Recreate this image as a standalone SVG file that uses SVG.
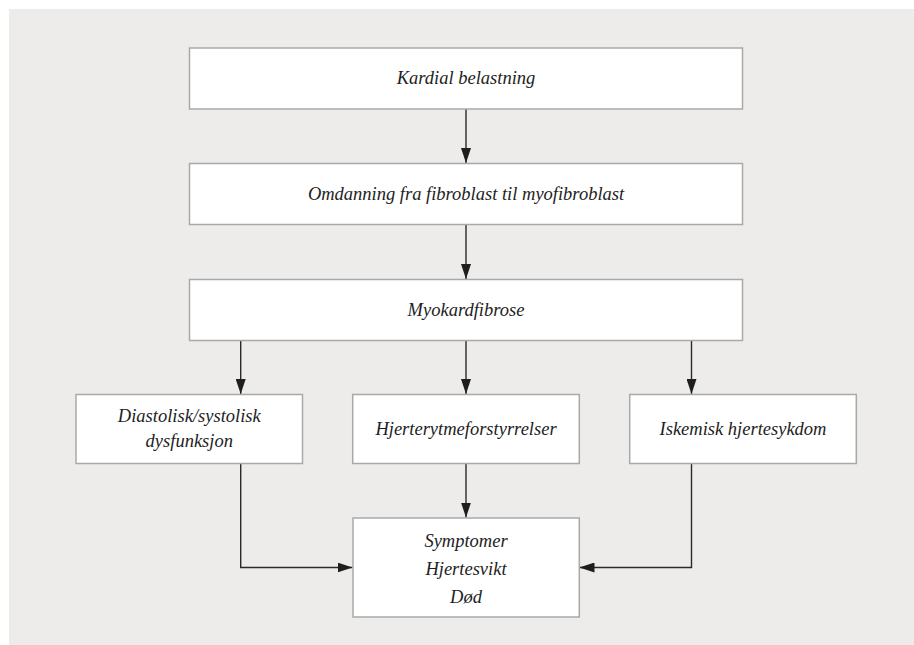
<svg xmlns="http://www.w3.org/2000/svg" width="914" height="645" viewBox="0 0 914 645">
<defs>
<style>
.bg{fill:#edecea}
.box{fill:#ffffff;stroke:#a9a9a9;stroke-width:1.5}
.t{font-family:"Liberation Serif","Times New Roman",serif;font-style:italic;font-size:18.5px;fill:#1e1e1e;text-anchor:middle}
.c{fill:none;stroke:#2a2a2a;stroke-width:1.4}
</style>
<marker id="ah" viewBox="0 0 15 10" refX="15" refY="5" markerWidth="15" markerHeight="10" markerUnits="userSpaceOnUse" orient="auto">
<path d="M0,0 L15,5 L0,10 Z" fill="#1e1e1e"/>
</marker>
</defs>
<rect class="bg" x="9" y="9" width="905" height="636"/>
<g id="connectors">
<line class="c" x1="466" y1="109" x2="466" y2="163" marker-end="url(#ah)"/>
<line class="c" x1="466" y1="224.5" x2="466" y2="279" marker-end="url(#ah)"/>
<line class="c" x1="240.7" y1="340.5" x2="240.7" y2="394" marker-end="url(#ah)"/>
<line class="c" x1="466" y1="340.5" x2="466" y2="394" marker-end="url(#ah)"/>
<line class="c" x1="691.5" y1="340.5" x2="691.5" y2="394" marker-end="url(#ah)"/>
<line class="c" x1="466" y1="463.5" x2="466" y2="517.5" marker-end="url(#ah)"/>
<polyline class="c" points="240.7,463.5 240.7,567.5 352.5,567.5" marker-end="url(#ah)"/>
<polyline class="c" points="691.5,463.5 691.5,567.5 579.5,567.5" marker-end="url(#ah)"/>
</g>
<g id="kardial">
<rect class="box" x="189.5" y="48" width="553" height="61"/>
<text class="t" x="466" y="84">Kardial belastning</text>
</g>
<g id="omdanning">
<rect class="box" x="189.5" y="163.5" width="553" height="61"/>
<text class="t" x="466" y="200">Omdanning fra fibroblast til myofibroblast</text>
</g>
<g id="myokardfibrose">
<rect class="box" x="189.5" y="279.5" width="553" height="61"/>
<text class="t" x="466" y="316">Myokardfibrose</text>
</g>
<g id="diastolisk">
<rect class="box" x="76" y="394.5" width="226.5" height="69"/>
<text class="t" x="189.3" y="422">Diastolisk/systolisk</text>
<text class="t" x="189.3" y="447">dysfunksjon</text>
</g>
<g id="hjerterytme">
<rect class="box" x="352.7" y="394.5" width="226.6" height="69"/>
<text class="t" x="466" y="435">Hjerterytmeforstyrrelser</text>
</g>
<g id="iskemisk">
<rect class="box" x="629.7" y="394.5" width="226.6" height="69"/>
<text class="t" x="743" y="435">Iskemisk hjertesykdom</text>
</g>
<g id="symptomer">
<rect class="box" x="353" y="518" width="226.3" height="99"/>
<text class="t" x="466" y="547">Symptomer</text>
<text class="t" x="466" y="575">Hjertesvikt</text>
<text class="t" x="466" y="603">Død</text>
</g>
</svg>
